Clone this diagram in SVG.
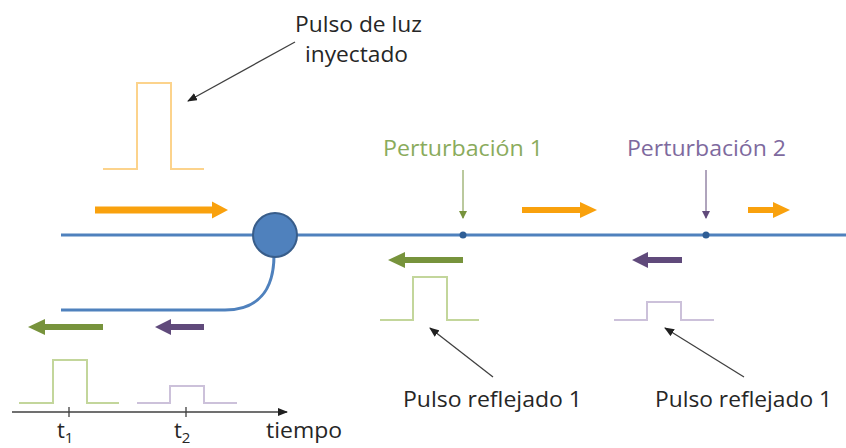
<svg xmlns="http://www.w3.org/2000/svg" width="846" height="448" viewBox="0 0 846 448">
<style>
.fiber{fill:none;stroke:#4f81bd;stroke-width:3}
.lbl{font-family:"Open Sans","Liberation Sans",Arial,sans-serif;font-size:22px;fill:#262626}
.pO{fill:none;stroke:#fcd38c;stroke-width:2}
.pG{fill:none;stroke:#c3d69b;stroke-width:2}
.pP{fill:none;stroke:#ccc1da;stroke-width:2}
.ptr{stroke:#404040;stroke-width:1.3;fill:none}
.axis{stroke:#404040;stroke-width:1.3;fill:none}
</style>
<defs>
<marker id="ah" markerWidth="10" markerHeight="8" refX="9" refY="4" orient="auto" markerUnits="userSpaceOnUse">
<path d="M0,0 L10,4 L0,8 Z" fill="#202020"/>
</marker>
<marker id="ahG" markerWidth="8" markerHeight="8" refX="7" refY="4" orient="auto" markerUnits="userSpaceOnUse">
<path d="M0,0 L8,4 L0,8 Z" fill="#77933c"/>
</marker>
<marker id="ahP" markerWidth="8" markerHeight="8" refX="7" refY="4" orient="auto" markerUnits="userSpaceOnUse">
<path d="M0,0 L8,4 L0,8 Z" fill="#604a7b"/>
</marker>
</defs>
<rect width="846" height="448" fill="#ffffff"/>

<g id="fiber">
<line class="fiber" x1="61" y1="235" x2="846" y2="235"/>
<path class="fiber" d="M274,255 C274,290 258,310 225,310 L61,310"/>
</g>

<g id="coupler">
<circle cx="275" cy="235" r="22" fill="#4f81bd" stroke="#385d8a" stroke-width="2"/>
</g>

<g id="perturbacion1">
<circle cx="463" cy="235" r="3.5" fill="#2f5e96"/>
<text class="lbl" x="383" y="156" style="fill:#8aab5c" textLength="160" lengthAdjust="spacingAndGlyphs">Perturbación 1</text>
</g>
<g id="perturbacion2">
<circle cx="706" cy="235" r="3.5" fill="#2f5e96"/>
<text class="lbl" x="627" y="156" style="fill:#7e6a9e" textLength="159" lengthAdjust="spacingAndGlyphs">Perturbación 2</text>
</g>

<g id="pulso-inyectado">
<polyline class="pO" points="103,169 137,169 137,83 171,83 171,169 204,169"/>
<text class="lbl" x="295" y="32" textLength="127" lengthAdjust="spacingAndGlyphs">Pulso de luz</text>
<text class="lbl" x="305" y="62" textLength="103" lengthAdjust="spacingAndGlyphs">inyectado</text>
</g>

<g id="pulso-reflejado-1">
<polyline class="pG" points="380,320 413,320 413,277 447,277 447,320 479,320"/>
<text class="lbl" x="403" y="407" textLength="179" lengthAdjust="spacingAndGlyphs">Pulso reflejado 1</text>
</g>
<g id="pulso-reflejado-2">
<polyline class="pP" points="614,320 647,320 647,302 681,302 681,320 714,320"/>
<text class="lbl" x="655" y="407" textLength="177" lengthAdjust="spacingAndGlyphs">Pulso reflejado 1</text>
</g>

<g id="deteccion">
<polyline class="pG" points="19,403 53,403 53,360 87,360 87,403 119,403"/>
<polyline class="pP" points="137,403 170,403 170,386 204,386 204,403 237,403"/>
<line class="axis" x1="12" y1="412" x2="287" y2="412" marker-end="url(#ah)"/>
<line class="axis" x1="69" y1="407" x2="69" y2="417"/>
<line class="axis" x1="186" y1="407" x2="186" y2="417"/>
<text class="lbl" x="57" y="438" font-size="23">t<tspan font-size="15" dy="5">1</tspan></text>
<text class="lbl" x="174" y="438" font-size="23">t<tspan font-size="15" dy="5">2</tspan></text>
<text class="lbl" x="266" y="438" textLength="76" lengthAdjust="spacingAndGlyphs">tiempo</text>
</g>

<g id="connectors">
<path d="M95,206.5 H212 V201.5 L228,210 L212,218.5 V213.5 H95 Z" fill="#f9a10d"/>
<path d="M522,207 H580 V202 L597,210 L580,218 V213 H522 Z" fill="#f9a10d"/>
<path d="M748,207 H773 V202 L790,210 L773,218 V213 H748 Z" fill="#f9a10d"/>
<path d="M463,257 H405 V252 L388,260 L405,268 V263 H463 Z" fill="#77933c"/>
<path d="M682,257 H648 V252 L632,260 L648,268 V263 H682 Z" fill="#604a7b"/>
<path d="M103,324 H45 V319 L28,327 L45,335 V330 H103 Z" fill="#77933c"/>
<path d="M204,324 H171 V319 L155,327 L171,335 V330 H204 Z" fill="#604a7b"/>
<line x1="463" y1="170" x2="463" y2="218" stroke="#77933c" stroke-width="1" marker-end="url(#ahG)"/>
<line x1="706" y1="170" x2="706" y2="218" stroke="#604a7b" stroke-width="1" marker-end="url(#ahP)"/>
<line class="ptr" x1="295" y1="42" x2="188" y2="101" marker-end="url(#ah)"/>
<line class="ptr" x1="493" y1="377" x2="430" y2="328" marker-end="url(#ah)"/>
<line class="ptr" x1="744" y1="377" x2="665" y2="328" marker-end="url(#ah)"/>
</g>
</svg>
